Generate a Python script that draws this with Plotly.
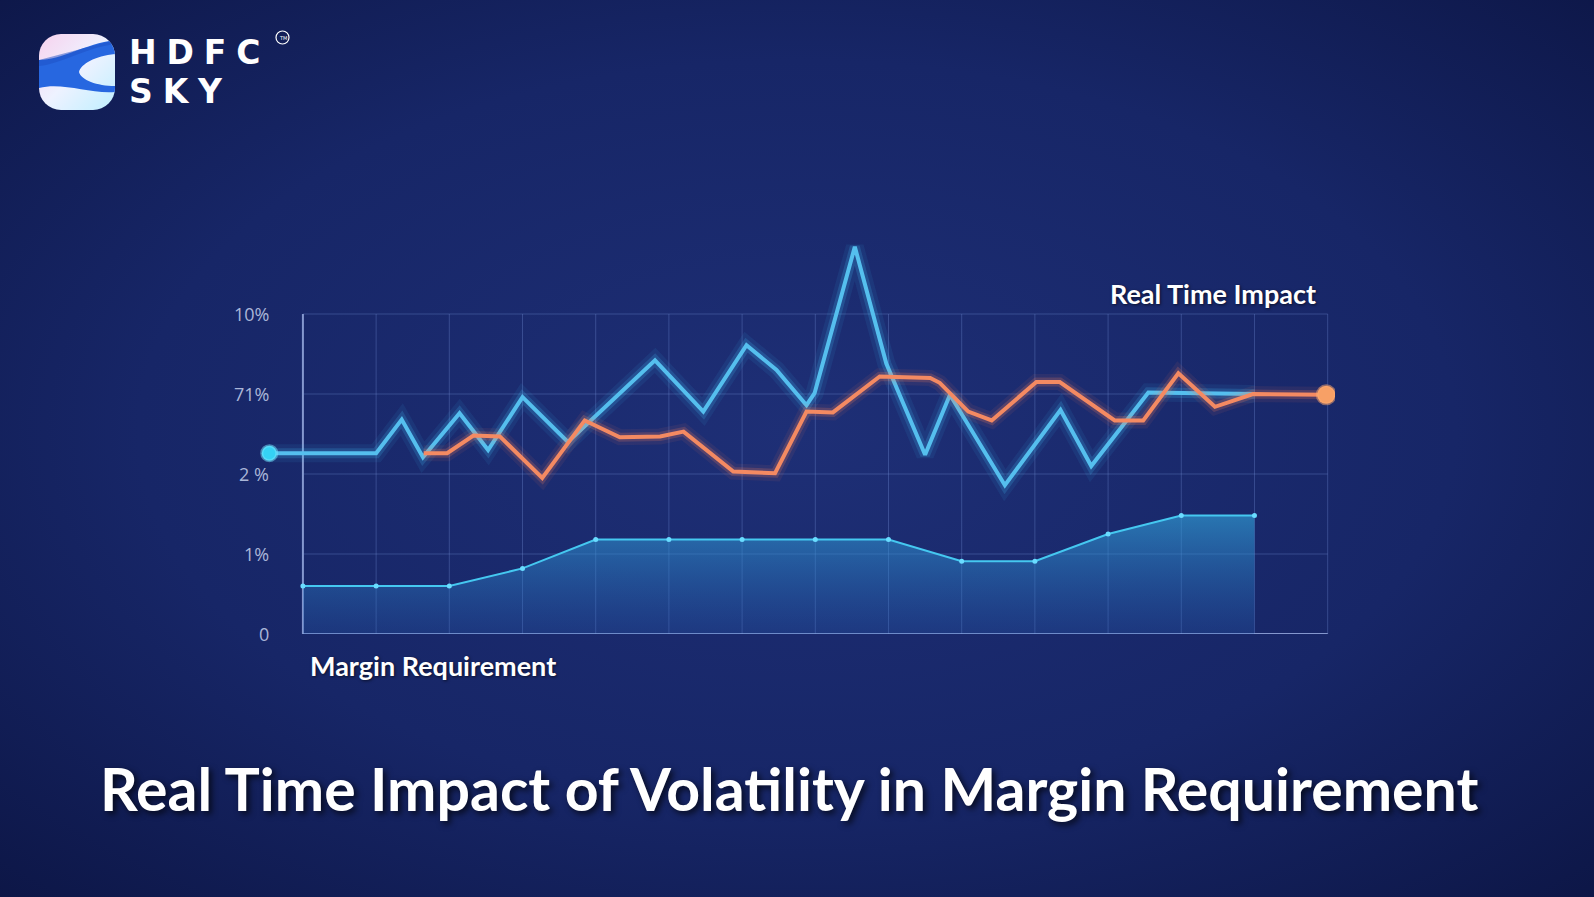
import base64
import plotly.graph_objects as go

# ---------------- data ----------------
y_tick_vals = [0, 1, 2, 3, 4]
y_tick_text = ["0", "1%", "2 %", "71%", "10%"]
x_grid = list(range(15))

# Margin requirement (area series)
margin_x = list(range(14))
margin_y = [0.60, 0.60, 0.60, 0.82, 1.18, 1.18, 1.18, 1.18, 1.18, 0.91, 0.91, 1.25, 1.48, 1.48]

# Volatility (blue series)
blue_x = [-0.46, 1.0, 1.35, 1.64, 2.14, 2.53, 3.0, 3.62, 4.81, 5.47, 6.06, 6.47, 6.88, 6.99,
          7.54, 7.97, 8.5, 8.84, 9.59, 10.35, 10.77, 11.55, 13.0]
blue_y = [2.26, 2.26, 2.68, 2.21, 2.76, 2.30, 2.96, 2.40, 3.42, 2.78, 3.61, 3.30, 2.86, 3.01,
          4.84, 3.38, 2.24, 2.99, 1.86, 2.80, 2.10, 3.02, 3.00]

# Real time impact (orange series)
orange_x = [1.65, 1.97, 2.33, 2.69, 3.27, 3.85, 4.33, 4.88, 5.2, 5.88, 6.45, 6.88, 7.24, 7.88,
            8.57, 8.70, 9.09, 9.41, 10.02, 10.34, 11.09, 11.48, 11.96, 12.46, 12.98, 13.98]
orange_y = [2.26, 2.26, 2.48, 2.47, 1.95, 2.67, 2.46, 2.47, 2.53, 2.03, 2.01, 2.78, 2.77, 3.22,
            3.20, 3.14, 2.78, 2.67, 3.15, 3.15, 2.67, 2.67, 3.26, 2.84, 3.00, 2.99]

# ---------------- layout geometry ----------------
W, H = 1594, 897
L, R, T, B = 259, 259, 234, 263
PW, PH = W - L - R, H - T - B


def px(x):
    return (x - L) / PW


def py(y):
    return 1 - (y - T) / PH


fig = go.Figure()

# margin requirement area
fig.add_trace(go.Scatter(
    x=margin_x, y=margin_y, mode="lines+markers",
    line=dict(color="#45c8f0", width=2),
    marker=dict(size=5, color="#6adcff"),
    fill="tozeroy",
    fillgradient=dict(type="vertical",
                      colorscale=[[0, "rgba(40,100,185,0.25)"], [1, "rgba(50,165,220,0.62)"]]),
    hoverinfo="skip", showlegend=False))

# blue glow + line
for w, a in [(18, 0.08), (10, 0.18)]:
    fig.add_trace(go.Scatter(x=blue_x, y=blue_y, mode="lines",
                             line=dict(color=f"rgba(70,200,255,{a})", width=w),
                             hoverinfo="skip", showlegend=False))
fig.add_trace(go.Scatter(x=blue_x, y=blue_y, mode="lines",
                         line=dict(color="#55bfee", width=4),
                         hoverinfo="skip", showlegend=False))
fig.add_trace(go.Scatter(x=blue_x[:1], y=blue_y[:1], mode="markers",
                         marker=dict(size=15, color="#35d2f5",
                                     line=dict(color="rgba(120,230,255,0.5)", width=3)),
                         hoverinfo="skip", showlegend=False))

# orange glow + line
for w, a in [(16, 0.08), (9, 0.2)]:
    fig.add_trace(go.Scatter(x=orange_x, y=orange_y, mode="lines",
                             line=dict(color=f"rgba(255,130,90,{a})", width=w),
                             hoverinfo="skip", showlegend=False))
fig.add_trace(go.Scatter(x=orange_x, y=orange_y, mode="lines",
                         line=dict(color="#f48a62", width=4),
                         hoverinfo="skip", showlegend=False))
fig.add_trace(go.Scatter(x=orange_x[-1:], y=orange_y[-1:], mode="markers",
                         marker=dict(size=18, color="#f7a066",
                                     line=dict(color="rgba(255,170,110,0.5)", width=3)),
                         hoverinfo="skip", showlegend=False))

# grid lines (as shapes limited to the chart frame)
shapes = []
for gx in x_grid:
    is_axis = gx == x_grid[0]
    shapes.append(dict(type="line", xref="x", yref="y", x0=gx, x1=gx,
                       y0=y_tick_vals[0], y1=y_tick_vals[-1], layer="below",
                       line=dict(color="rgba(170,190,240,0.75)" if is_axis else "rgba(120,150,220,0.32)",
                                 width=2 if is_axis else 1)))
for gy in y_tick_vals:
    is_axis = gy == y_tick_vals[0]
    shapes.append(dict(type="line", xref="x", yref="y", x0=x_grid[0], x1=x_grid[-1],
                       y0=gy, y1=gy, layer="below",
                       line=dict(color="rgba(170,190,240,0.75)" if is_axis else "rgba(120,150,220,0.32)",
                                 width=2 if is_axis else 1)))
# TM circle
shapes.append(dict(type="circle", xref="paper", yref="paper",
                   x0=px(276), x1=px(289), y0=py(31), y1=py(44),
                   line=dict(color="white", width=1.2)))

annotations = []
for v, t in zip(y_tick_vals, y_tick_text):
    annotations.append(dict(x=-0.44, y=v, xref="x", yref="y", text=t, showarrow=False,
                            xanchor="right", yanchor="middle",
                            font=dict(family="Open Sans", size=18, color="#aab6d8")))

sp = "\u2009\u200a"
annotations += [
    dict(x=px(1213), y=py(293), xref="paper", yref="paper", text="<b>Real Time Impact</b>",
         showarrow=False, xanchor="center", yanchor="middle",
         font=dict(family="Lato", size=27, color="white", shadow="1px 1px 3px rgba(0,0,0,0.6)")),
    dict(x=px(308), y=py(665), xref="paper", yref="paper", text="<b>Margin Requirement</b>",
         showarrow=False, xanchor="left", yanchor="middle",
         font=dict(family="Lato", size=27, color="white", shadow="1px 1px 3px rgba(0,0,0,0.6)")),
    dict(x=px(789), y=py(788), xref="paper", yref="paper",
         text="<b>Real Time Impact of Volatility in Margin Requirement</b>",
         showarrow=False, xanchor="center", yanchor="middle",
         font=dict(family="Lato", size=59, color="white", shadow="3px 3px 6px rgba(0,0,0,0.7)")),
    dict(x=px(127), y=py(53), xref="paper", yref="paper", text=sp.join("HDFC"),
         showarrow=False, xanchor="left", yanchor="middle",
         font=dict(family="DejaVu Sans", size=33, color="white", weight="bold")),
    dict(x=px(127), y=py(91), xref="paper", yref="paper", text=sp.join("SKY"),
         showarrow=False, xanchor="left", yanchor="middle",
         font=dict(family="DejaVu Sans", size=33, color="white", weight="bold")),
    dict(x=px(282.5), y=py(37.5), xref="paper", yref="paper", text="TM",
         showarrow=False, xanchor="center", yanchor="middle",
         font=dict(family="DejaVu Sans", size=5, color="white")),
]

# background gradient and logo icon as inline SVG images
bg_svg = (
    "<svg xmlns='http://www.w3.org/2000/svg' width='1594' height='897'>"
    "<defs><radialGradient id='g' cx='0.5' cy='0.48' r='0.75'>"
    "<stop offset='0' stop-color='#1e2f76'/><stop offset='0.55' stop-color='#172667'/>"
    "<stop offset='1' stop-color='#0c1544'/></radialGradient></defs>"
    "<rect width='1594' height='897' fill='url(#g)'/></svg>"
)
logo_svg = (
    "<svg xmlns='http://www.w3.org/2000/svg' width='76' height='76' viewBox='0 0 76 76'>"
    "<defs><linearGradient id='l' x1='0' y1='0' x2='1' y2='1'>"
    "<stop offset='0' stop-color='#f7d2ee'/><stop offset='0.5' stop-color='#eef2ff'/>"
    "<stop offset='1' stop-color='#bfefff'/></linearGradient>"
    "<clipPath id='c'><rect width='76' height='76' rx='22' ry='22'/></clipPath></defs>"
    "<rect width='76' height='76' rx='22' ry='22' fill='url(#l)'/>"
    "<g clip-path='url(#c)'><path d='M0,26 C22,26 46,10 76,6 L76,20 C56,22 42,30 40,38 "
    "C42,46 58,52 76,52 L76,58 C50,60 24,48 0,54 Z' fill='#2767e0'/>"
    "<path d='M0,26 L76,6 L76,10 C46,14 22,30 0,32 Z' fill='#1d4fc4' opacity='0.5'/></g></svg>"
)


def uri(s):
    return "data:image/svg+xml;base64," + base64.b64encode(s.encode()).decode()


images = [
    dict(source=uri(bg_svg), xref="paper", yref="paper", x=px(0), y=py(0),
         sizex=W / PW, sizey=H / PH, sizing="stretch", layer="below",
         xanchor="left", yanchor="top"),
    dict(source=uri(logo_svg), xref="paper", yref="paper", x=px(39), y=py(34),
         sizex=76 / PW, sizey=76 / PH, sizing="stretch", layer="above",
         xanchor="left", yanchor="top"),
]

fig.update_layout(
    width=W, height=H,
    margin=dict(l=L, r=R, t=T, b=B),
    paper_bgcolor="#14225e", plot_bgcolor="rgba(0,0,0,0)",
    xaxis=dict(range=[-0.6, 14.1], showgrid=False, zeroline=False, showticklabels=False,
               showline=False, fixedrange=True),
    yaxis=dict(range=[0, 5], showgrid=False, zeroline=False, showticklabels=False,
               showline=False, fixedrange=True),
    shapes=shapes, annotations=annotations, images=images,
    showlegend=False,
)

fig.write_html("out.html")
